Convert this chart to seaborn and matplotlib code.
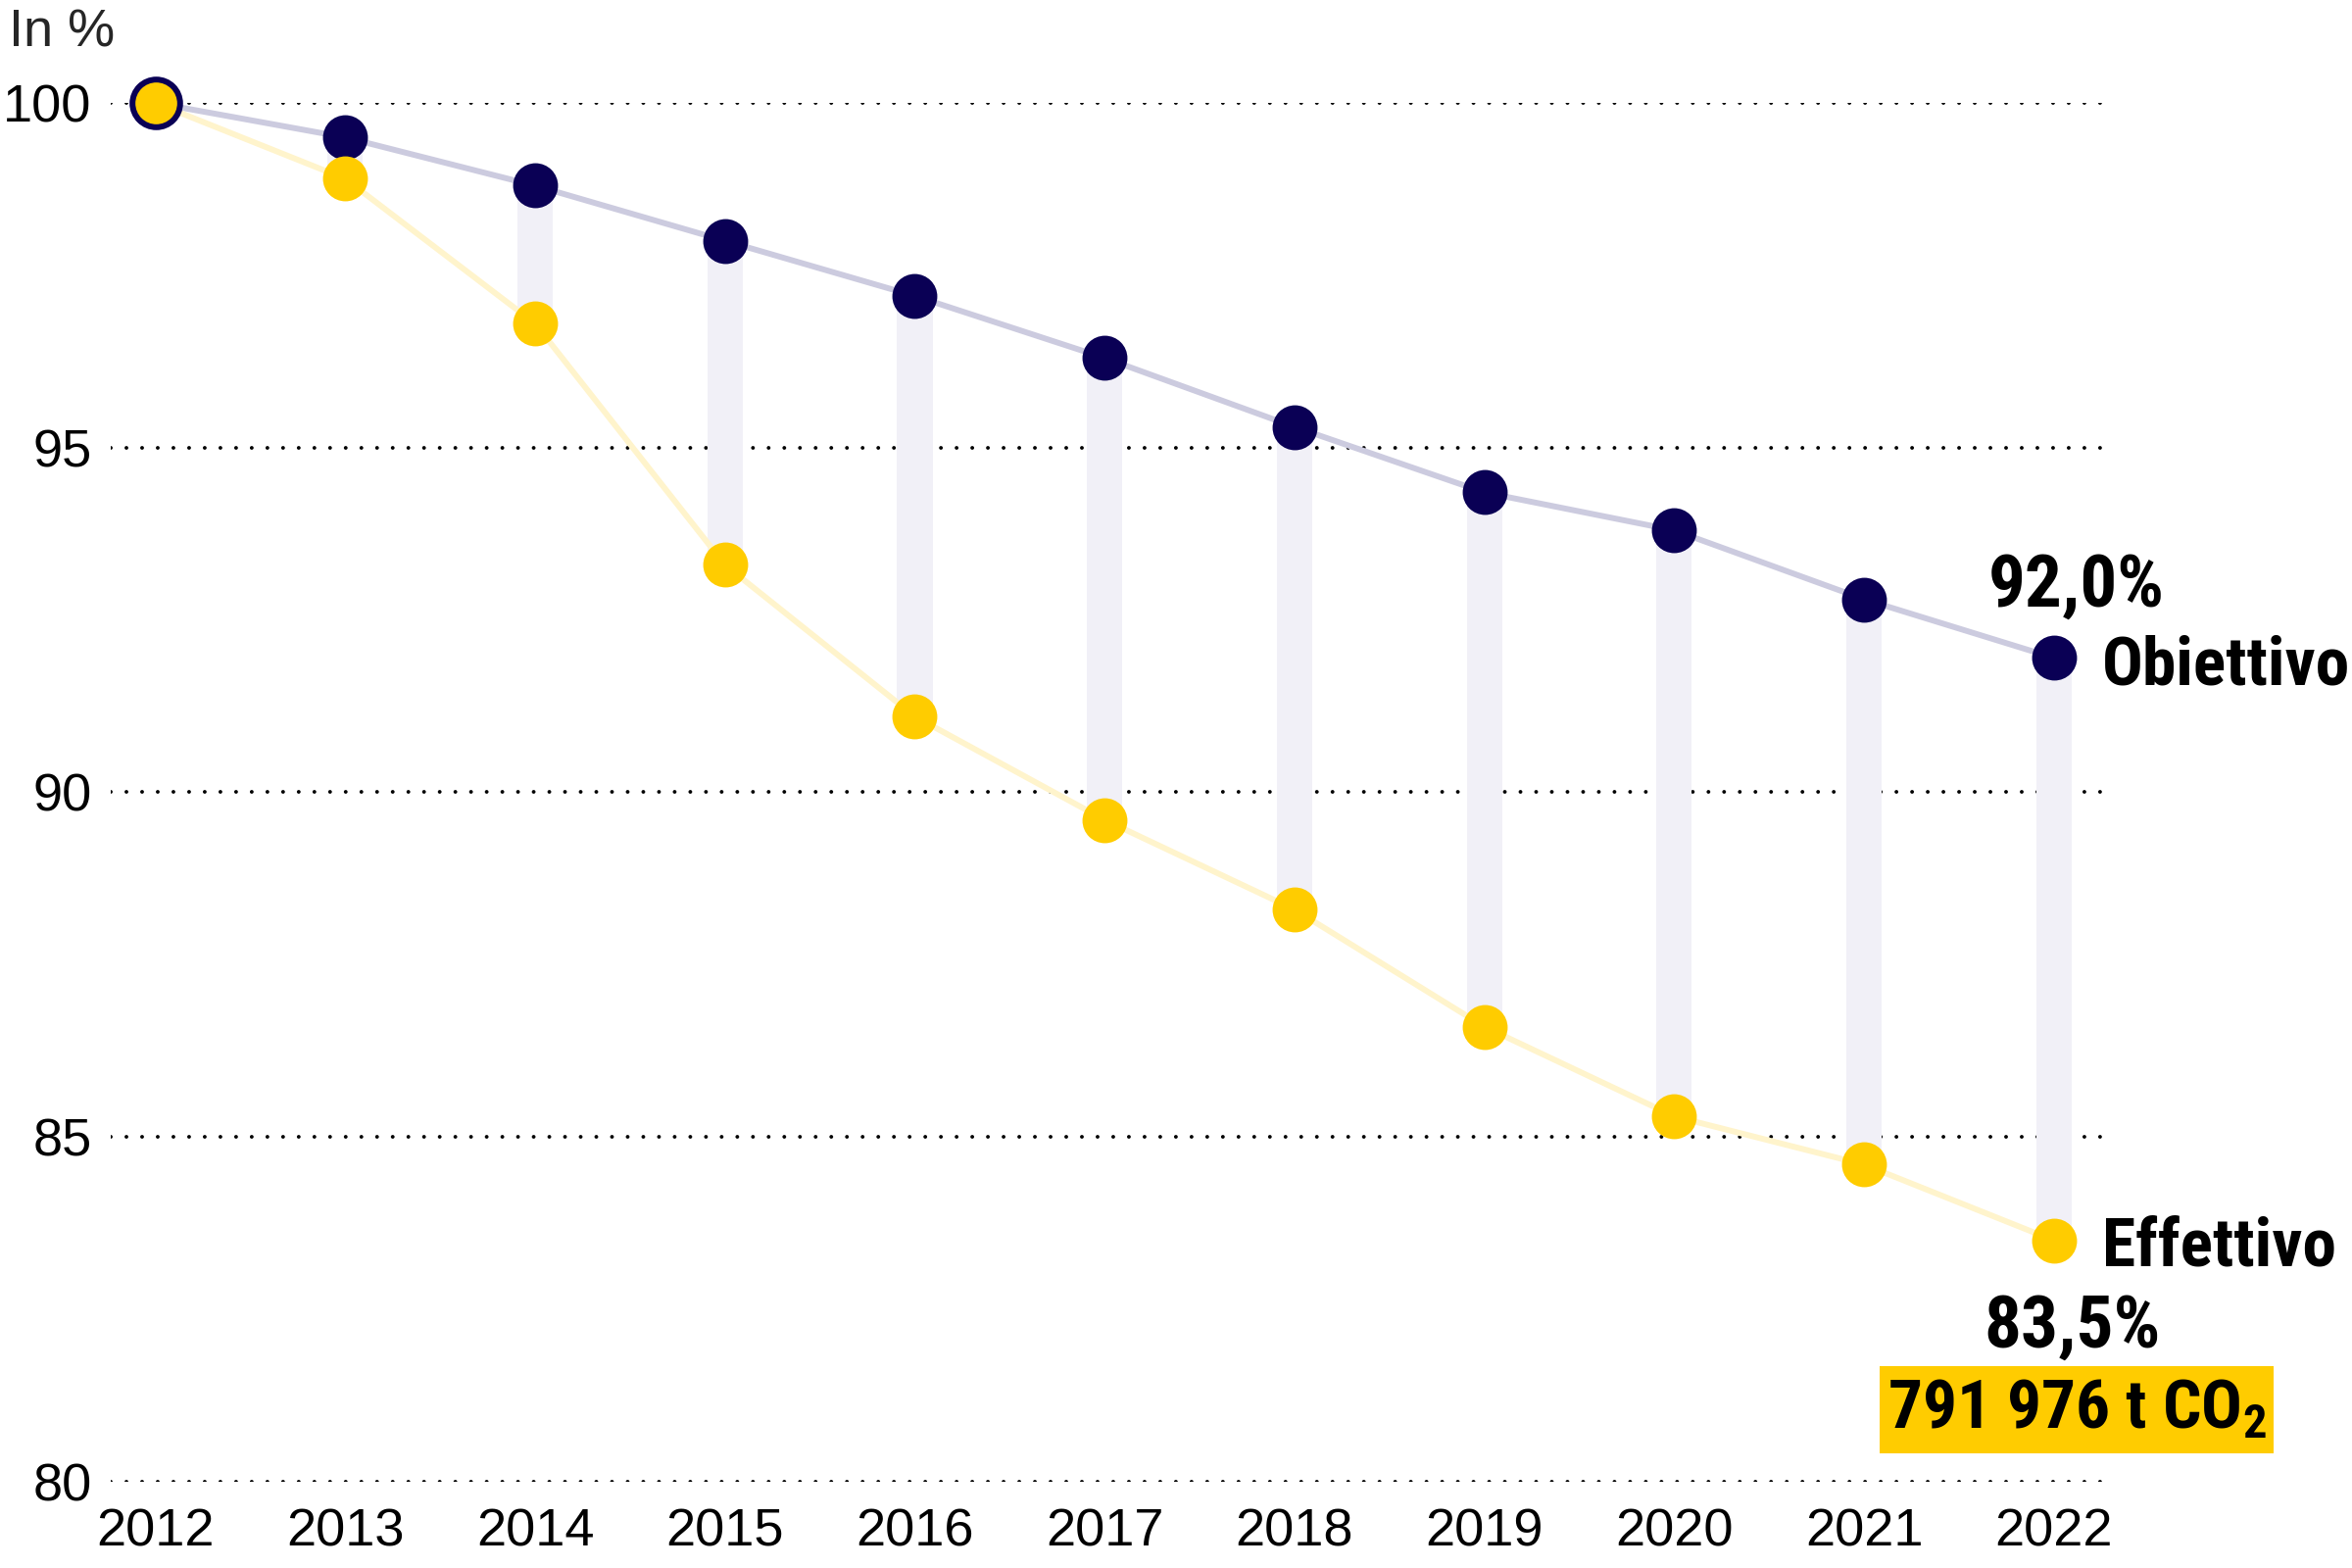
import numpy as np
import pandas as pd
import seaborn as sns
import matplotlib.pyplot as plt
from matplotlib import font_manager as fm
from matplotlib.patches import Rectangle
from matplotlib.transforms import IdentityTransform

years = [2012, 2013, 2014, 2015, 2016, 2017, 2018, 2019, 2020, 2021, 2022]
obiettivo = [100.0, 99.5, 98.8, 98.0, 97.2, 96.3, 95.3, 94.35, 93.8, 92.8, 91.95]
effettivo = [100.0, 98.9, 96.8, 93.3, 91.1, 89.6, 88.3, 86.6, 85.3, 84.6, 83.5]
yticks = [80, 85, 90, 95, 100]
xlabels = [str(y) for y in years]
label_obj_val = '92,0%'
label_eff_val = '83,5%'
label_obj = 'Obiettivo'
label_eff = 'Effettivo'
label_co2 = '791 976 t CO$_2$'

NAVY = '#0a0055'
YELLOW = '#ffcc00'
NAVY_LINE = '#cccbdf'
YELLOW_LINE = '#fff4cc'
BAR = '#f1f0f7'

sns.set_style('white')

available = {f.name for f in fm.fontManager.ttflist}
BOLDFAM = 'Roboto Condensed' if 'Roboto Condensed' in available else 'Liberation Sans'
REGFAM = 'Liberation Sans' if 'Liberation Sans' in available else 'DejaVu Sans'

plt.rcParams['font.family'] = [REGFAM, 'DejaVu Sans']
plt.rcParams['mathtext.fontset'] = 'custom'
plt.rcParams['mathtext.rm'] = BOLDFAM + ':bold'
plt.rcParams['mathtext.bf'] = BOLDFAM + ':bold'
plt.rcParams['mathtext.it'] = BOLDFAM + ':bold'

REG = 39

df = pd.DataFrame({'anno': years, 'Obiettivo': obiettivo, 'Effettivo': effettivo})

fig = plt.figure(figsize=(24, 16), dpi=100)
ax = fig.add_axes([113 / 2400, 1 - 1512 / 1600, (2150 - 113) / 2400, (1512 - 105) / 1600])
ax.set_xlim(2011.765, 2022.279)
ax.set_ylim(80, 100)

# dotted gridlines
for t in yticks:
    ax.axhline(t, color='black', lw=2.8, linestyle=(0, (0.01, 4.1)),
               dash_capstyle='round', zorder=0)

# gap bars
ax.bar(df['anno'], df['Obiettivo'] - df['Effettivo'], bottom=df['Effettivo'],
       width=0.186, color=BAR, zorder=1, linewidth=0)

sns.lineplot(data=df, x='anno', y='Obiettivo', ax=ax, color=NAVY_LINE, lw=4.3, zorder=2)
sns.lineplot(data=df, x='anno', y='Effettivo', ax=ax, color=YELLOW_LINE, lw=4.3, zorder=2)

sns.scatterplot(data=df, x='anno', y='Obiettivo', ax=ax, color=NAVY, s=1090,
                linewidth=0, zorder=4, clip_on=False)
sns.scatterplot(data=df.iloc[1:], x='anno', y='Effettivo', ax=ax, color=YELLOW, s=1090,
                linewidth=0, zorder=5, clip_on=False)
ax.scatter([years[0]], [effettivo[0]], s=1225, color=YELLOW, edgecolor=NAVY,
           linewidth=4.3, zorder=6, clip_on=False)

ax.set_yticks(yticks)
ax.set_yticklabels([str(t) for t in yticks])
ax.set_xticks(years)
ax.set_xticklabels(xlabels)
ax.tick_params(axis='y', length=0, pad=14, labelsize=REG, colors='black')
ax.tick_params(axis='x', length=0, pad=19, labelsize=REG, colors='black')
ax.set_xlabel('')
ax.set_ylabel('')
for s in ax.spines.values():
    s.set_visible(False)

fig.text(9 / 2400, 1 - 47 / 1600, 'In %', fontsize=REG, ha='left', va='baseline')

bold = dict(fontweight='bold', textcoords='offset pixels', color='black',
            family=[BOLDFAM, 'DejaVu Sans'])
ax.annotate(label_obj_val, xy=(years[-1], obiettivo[-1]), xytext=(23, 53),
            ha='center', va='baseline', fontsize=54, **bold)
ax.annotate(label_obj, xy=(years[-1], obiettivo[-1]), xytext=(49, -27),
            ha='left', va='baseline', fontsize=50, **bold)
ax.annotate(label_eff, xy=(years[-1], effettivo[-1]), xytext=(49, -26),
            ha='left', va='baseline', fontsize=50, **bold)
ax.annotate(label_eff_val, xy=(years[-1], effettivo[-1]), xytext=(19, -109),
            ha='center', va='baseline', fontsize=54, **bold)

# yellow highlight box under the last value
px = ax.transData.transform((years[-1], effettivo[-1]))
box = Rectangle((px[0] - 178, px[1] - 217), 402, 89, transform=IdentityTransform(),
                facecolor=YELLOW, edgecolor='none', zorder=7, clip_on=False)
ax.add_patch(box)
ax.annotate(label_co2, xy=(years[-1], effettivo[-1]), xytext=(24, -191),
            ha='center', va='baseline', fontsize=50, zorder=8, **bold)

fig.savefig('out.png', dpi=100, facecolor='white')
